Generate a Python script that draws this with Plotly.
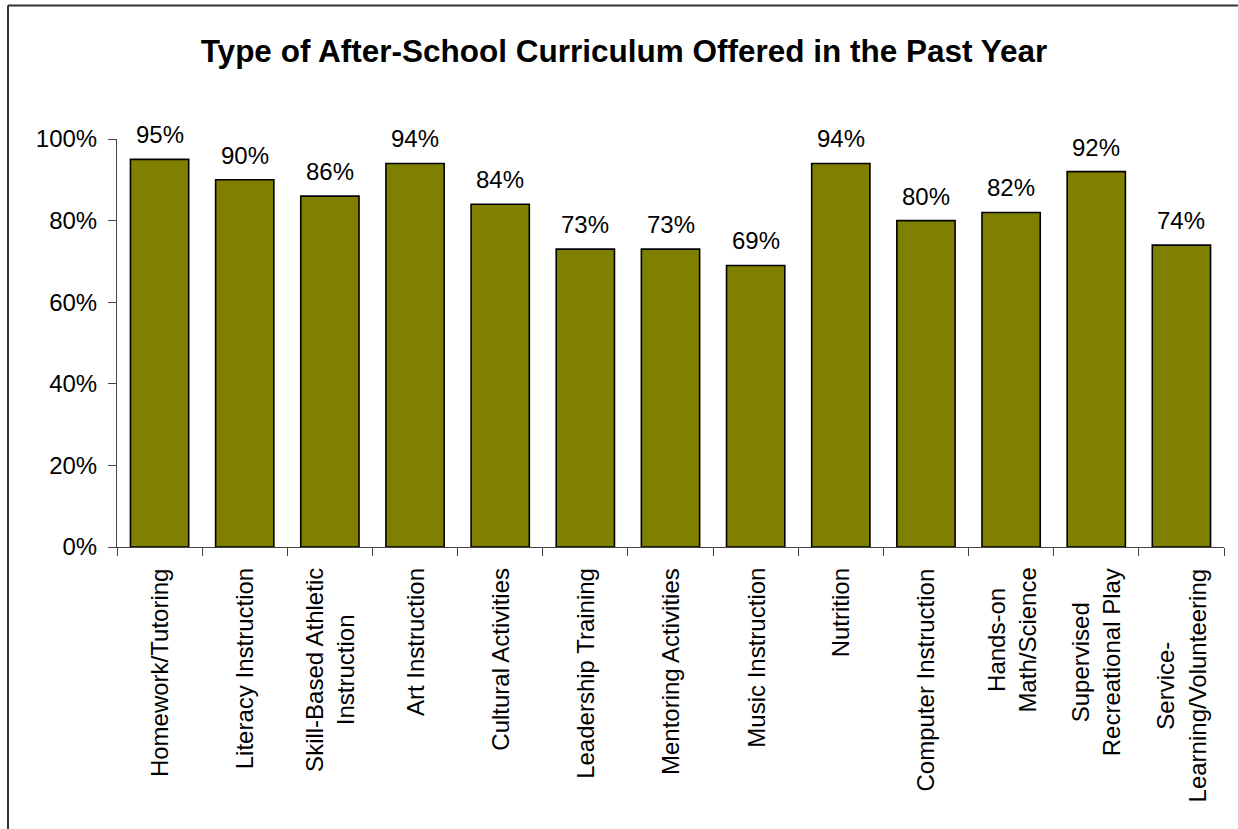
import plotly.graph_objects as go

# Survey results: share of programs offering each curriculum type
categories = [
    "Homework/Tutoring",
    "Literacy Instruction",
    "Skill-Based Athletic<br>Instruction",
    "Art Instruction",
    "Cultural Activities",
    "Leadership Training",
    "Mentoring Activities",
    "Music Instruction",
    "Nutrition",
    "Computer Instruction",
    "Hands-on<br>Math/Science",
    "Supervised<br>Recreational Play",
    "Service-<br>Learning/Volunteering",
]
values = [95, 90, 86, 94, 84, 73, 73, 69, 94, 80, 82, 92, 74]
y_ticks = [0, 20, 40, 60, 80, 100]

W, H = 1238, 829
M_L, M_R, M_T, M_B = 117, 14, 139, 282
FONT = "Liberation Sans, Arial, sans-serif"
OLIVE = "#808000"


def px_to_paper_x(px):
    return (px - M_L) / (W - M_L - M_R)


def px_to_paper_y(py):
    return 1 - (py - M_T) / (H - M_T - M_B)


fig = go.Figure(
    go.Bar(
        x=categories,
        y=values,
        marker=dict(color=OLIVE, line=dict(color="#000000", width=1.6)),
        hoverinfo="skip",
    )
)

annotations = []
# value labels above each bar
for cat, v in zip(categories, values):
    annotations.append(dict(
        x=cat, y=v, xref="x", yref="y",
        text=f"{v}%", showarrow=False,
        yanchor="bottom", xanchor="center", yshift=9,
        font=dict(family=FONT, size=24, color="#000000"),
    ))
# rotated category labels below the axis
for cat in categories:
    annotations.append(dict(
        x=cat, y=0, xref="x", yref="paper",
        text=cat, showarrow=False, textangle=-90,
        yanchor="top", xanchor="center", yshift=-19, align="center",
        font=dict(family=FONT, size=24, color="#000000"),
    ))

# frame around the chart area (top and left edges)
frame_x = px_to_paper_x(8)
frame_y = px_to_paper_y(5.5)
frame = [
    dict(type="line", xref="paper", yref="paper",
         x0=frame_x, x1=px_to_paper_x(W + 5), y0=frame_y, y1=frame_y,
         line=dict(color="#333333", width=2), layer="above"),
    dict(type="line", xref="paper", yref="paper",
         x0=frame_x, x1=frame_x, y0=frame_y, y1=px_to_paper_y(H + 5),
         line=dict(color="#333333", width=2), layer="above"),
]

fig.update_layout(
    width=W, height=H,
    margin=dict(l=M_L, r=M_R, t=M_T, b=M_B),
    paper_bgcolor="white", plot_bgcolor="white",
    showlegend=False,
    bargap=0.316,
    title=dict(
        text="<b>Type of After-School Curriculum Offered in the Past Year</b>",
        x=624 / W, xanchor="center", xref="container",
        y=1 - 51 / H, yanchor="middle", yref="container",
        font=dict(family=FONT, size=31.5, color="#000000"),
    ),
    xaxis=dict(
        showticklabels=False, ticks="outside", tickson="boundaries",
        ticklen=8, tickcolor="#444444", tickwidth=1,
        showline=True, linecolor="#444444", linewidth=1,
        showgrid=False, zeroline=False,
    ),
    yaxis=dict(
        range=[0, 100], tickvals=y_ticks, ticktext=[f"{t}%" for t in y_ticks],
        ticks="outside", ticklen=8, tickcolor="#444444", tickwidth=1,
        showline=True, linecolor="#444444", linewidth=1,
        showgrid=False, zeroline=False, ticklabelstandoff=6,
        tickfont=dict(family=FONT, size=24, color="#000000"),
    ),
    annotations=annotations,
    shapes=frame,
)

fig.write_html("out.html")
